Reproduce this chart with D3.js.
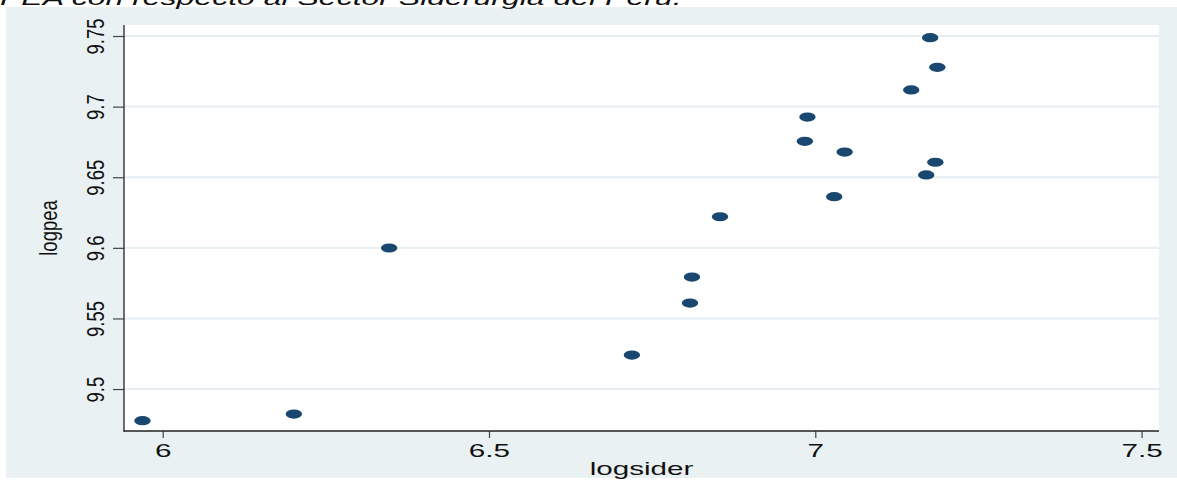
<!DOCTYPE html>
<html>
<head>
<meta charset="utf-8">
<script src="https://cdn.jsdelivr.net/npm/d3@7"></script>
<style>
  html, body { margin: 0; padding: 0; background: #ffffff; }
  svg { display: block; }
  text { font-family: "Liberation Sans", Arial, Helvetica, sans-serif; fill: #111; }
</style>
</head>
<body>
<svg id="chart" width="1177" height="489"></svg>
<script>
// Observations: log of steel-sector output (logsider) vs log of the EAP (logpea)
const logsider = [7.176, 7.187, 7.147, 6.988, 6.984, 7.045, 7.184, 7.170,
                  7.029, 6.854, 6.347, 6.811, 6.808, 6.719, 6.201, 5.969];
const logpea   = [9.7488, 9.7278, 9.7118, 9.6926, 9.6754, 9.6678, 9.6606, 9.6516,
                  9.6362, 9.6220, 9.5999, 9.5793, 9.5609, 9.5241, 9.4823, 9.4776];

const xTicks = [6, 6.5, 7, 7.5];
const yTicks = [9.5, 9.55, 9.6, 9.65, 9.7, 9.75];
const xTickLabels = ["6", "6.5", "7", "7.5"];
const yTickLabels = ["9.5", "9.55", "9.6", "9.65", "9.7", "9.75"];

const titleText = "PEA con respecto al Sector Siderurgia del Perú.";
const xTitle = "logsider";
const yTitle = "logpea";

const W = 1177, H = 489;
const plot = { left: 124, right: 1159, top: 25, bottom: 431 };
const stretch = 1.6;   // horizontal widening of the text

const svg = d3.select("#chart");

// outer graph region
svg.append("rect")
  .attr("x", 6).attr("y", 7)
  .attr("width", W - 6).attr("height", 478 - 7)
  .attr("fill", "#e9f1f3");

// title (partly clipped at the top edge)
svg.append("text")
  .attr("transform", `translate(0,5) scale(${stretch},1)`)
  .attr("font-size", 20)
  .attr("font-style", "italic")
  .text(titleText);

// plot region
svg.append("rect")
  .attr("x", plot.left).attr("y", plot.top)
  .attr("width", plot.right - plot.left).attr("height", plot.bottom - plot.top)
  .attr("fill", "#ffffff");

const x = d3.scaleLinear().domain([5.9407, 7.5267]).range([plot.left, plot.right]);
const y = d3.scaleLinear().domain([9.4703, 9.7578]).range([plot.bottom, plot.top]);

// horizontal grid lines
svg.append("g")
  .selectAll("line")
  .data(yTicks)
  .join("line")
  .attr("x1", plot.left).attr("x2", plot.right)
  .attr("y1", d => y(d)).attr("y2", d => y(d))
  .attr("stroke", "#e6eef1")
  .attr("stroke-width", 2);

// x axis
const gx = svg.append("g")
  .attr("transform", `translate(0,${plot.bottom})`)
  .call(d3.axisBottom(x).tickValues(xTicks).tickSize(7).tickSizeOuter(0)
    .tickFormat((d, i) => xTickLabels[i]));
gx.select(".domain").remove();
gx.selectAll(".tick line").attr("stroke", "#444").attr("stroke-width", 1.2);
gx.selectAll(".tick text")
  .attr("y", null).attr("dy", null)
  .attr("transform", `translate(0,26) scale(${stretch + 0.05},1)`)
  .attr("font-size", 18)
  .attr("fill", "#111");

// y axis
const gy = svg.append("g")
  .attr("transform", `translate(${plot.left},0)`)
  .call(d3.axisLeft(y).tickValues(yTicks).tickSize(11).tickSizeOuter(0)
    .tickFormat((d, i) => yTickLabels[i]));
gy.select(".domain").remove();
gy.selectAll(".tick line").attr("stroke", "#444").attr("stroke-width", 1.2);
gy.selectAll(".tick text")
  .attr("x", null).attr("dy", null)
  .attr("text-anchor", "middle")
  .attr("transform", "translate(-20,0) rotate(-90) scale(1,1.3)")
  .attr("font-size", 18.5)
  .attr("fill", "#111");

// axis lines
svg.append("line")
  .attr("x1", plot.left).attr("x2", plot.left)
  .attr("y1", plot.top).attr("y2", plot.bottom + 0.6)
  .attr("stroke", "#222").attr("stroke-width", 1.3);
svg.append("line")
  .attr("x1", plot.left - 0.6).attr("x2", plot.right)
  .attr("y1", plot.bottom).attr("y2", plot.bottom)
  .attr("stroke", "#222").attr("stroke-width", 1.3);

// axis titles
svg.append("text")
  .attr("transform", `translate(${(plot.left + plot.right) / 2},475) scale(${stretch},1)`)
  .attr("text-anchor", "middle")
  .attr("font-size", 18.5)
  .text(xTitle);

svg.append("text")
  .attr("transform", `translate(57,${(plot.top + plot.bottom) / 2}) rotate(-90) scale(1,1.3)`)
  .attr("text-anchor", "middle")
  .attr("font-size", 18.5)
  .text(yTitle);

// markers
svg.append("g")
  .selectAll("ellipse")
  .data(logsider.map((v, i) => [v, logpea[i]]))
  .join("ellipse")
  .attr("cx", d => x(d[0]))
  .attr("cy", d => y(d[1]))
  .attr("rx", 8.2)
  .attr("ry", 4.6)
  .attr("fill", "#1a476f");
</script>
</body>
</html>
